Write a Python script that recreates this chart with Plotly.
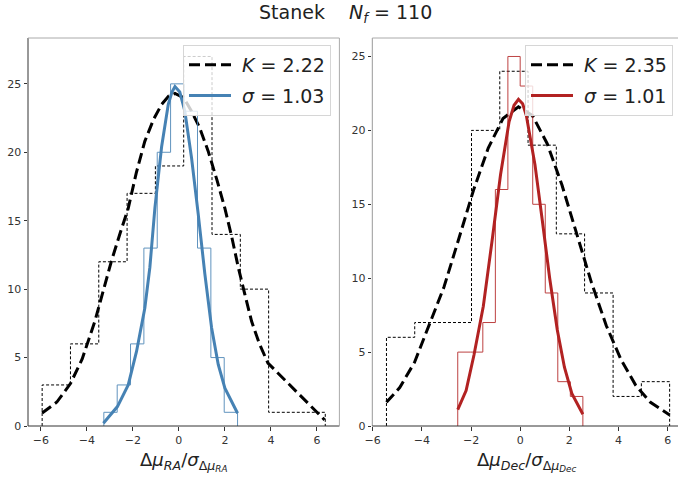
import plotly.graph_objects as go

# ---- Right ascension panel ----
ra_all_edges = [-5.94, -4.71, -3.48, -2.25, -1.02, 0.21, 1.44, 2.67, 3.90, 5.13, 6.36]
ra_all_counts = [3, 6, 12, 17, 19, 27, 14, 10, 1, 1]
ra_cut_edges = [-3.26, -2.68, -2.10, -1.52, -0.94, -0.36, 0.23, 0.81, 1.39, 1.97, 2.55]
ra_cut_counts = [1, 3, 6, 13, 20, 25, 23, 13, 5, 1]

ra_k_x = [-5.94, -5.3, -4.71, -4.2, -3.65, -3.3, -2.93, -2.55, -2.2, -1.85, -1.48, -1.1,
          -0.75, -0.45, -0.17, 0.2, 0.55, 0.9, 1.27, 1.65, 2.0, 2.3, 2.58, 2.87, 3.16,
          3.5, 3.87, 6.33]
ra_k_y = [0.95, 1.75, 3.1, 4.9, 7.65, 9.8, 12.05, 14.1, 15.9, 18.5, 20.8, 22.4,
          23.5, 24.1, 24.3, 24.0, 23.0, 21.8, 20.1, 18.0, 15.9, 13.8, 11.6, 9.6, 7.65,
          6.0, 4.6, 0.45]
ra_s_x = [-3.28, -2.67, -2.2, -1.84, -1.48, -1.26, -1.04, -0.75, -0.46, -0.3, -0.17,
          0.04, 0.26, 0.55, 0.84, 1.13, 1.42, 1.71, 2.0, 2.55]
ra_s_y = [0.2, 1.42, 3.0, 5.45, 8.6, 11.6, 15.95, 20.4, 23.5, 24.4, 24.8,
          24.4, 23.0, 19.6, 15.5, 11.1, 7.2, 4.5, 2.76, 0.93]

# ---- Declination panel ----
dec_all_edges = [-5.44, -4.29, -3.14, -1.98, -0.83, 0.32, 1.47, 2.62, 3.78, 4.93, 6.08]
dec_all_counts = [6, 7, 7, 20, 24, 19, 13, 9, 2, 3]
dec_cut_edges = [-2.54, -2.03, -1.52, -1.01, -0.50, 0.0, 0.51, 1.02, 1.53, 2.04, 2.55]
dec_cut_counts = [5, 5, 7, 16, 25, 23, 15, 9, 3, 2]

dec_k_x = [-5.44, -4.9, -4.3, -3.7, -3.1, -2.5, -1.9, -1.3, -0.7, -0.07, 0.5, 1.1,
           1.7, 2.3, 2.9, 3.5, 4.1, 4.7, 5.3, 6.08]
dec_k_y = [1.6, 2.6, 4.3, 6.8, 9.4, 12.65, 15.95, 18.8, 20.8, 21.6, 21.0, 19.1,
           16.3, 13.0, 9.7, 6.8, 4.5, 2.75, 1.6, 0.75]
dec_s_x = [-2.54, -2.2, -1.88, -1.5, -1.13, -0.8, -0.45, -0.25, -0.07, 0.1, 0.25, 0.6,
           0.9, 1.2, 1.51, 1.8, 2.1, 2.55]
dec_s_y = [1.11, 2.4, 4.8, 8.1, 12.7, 17.0, 20.6, 21.7, 22.1, 21.8, 21.0, 17.7,
           13.9, 10.0, 6.5, 3.98, 2.2, 0.8]

ra_labels = ["&nbsp;<i>K</i> = 2.22", "&nbsp;<i>σ</i> = 1.03"]
dec_labels = ["&nbsp;<i>K</i> = 2.35", "&nbsp;<i>σ</i> = 1.01"]

FONT = "DejaVu Sans"
BLUE = "#4682b4"
RED = "#b22222"
W, H = 678, 477


def step_path(edges, counts):
    xs, ys = [edges[0]], [0]
    for i, c in enumerate(counts):
        xs += [edges[i], edges[i + 1]]
        ys += [c, c]
    xs.append(edges[-1])
    ys.append(0)
    return xs, ys


fig = go.Figure()


def add_panel(xa, ya, legend, all_e, all_c, cut_e, cut_c, kx, ky, sx, sy, color, labels):
    hx, hy = step_path(all_e, all_c)
    fig.add_trace(go.Scatter(x=hx, y=hy, mode="lines", xaxis=xa, yaxis=ya,
                             line=dict(color="black", width=1, dash="3px,2px"),
                             showlegend=False, hoverinfo="skip"))
    fig.add_trace(go.Scatter(x=kx, y=ky, mode="lines", xaxis=xa, yaxis=ya,
                             line=dict(color="black", width=3, dash="11px,5px"),
                             name=labels[0], legend=legend, legendgroup=legend + "k"))
    hx, hy = step_path(cut_e, cut_c)
    fig.add_trace(go.Scatter(x=hx, y=hy, mode="lines", xaxis=xa, yaxis=ya,
                             line=dict(color=color, width=1), opacity=0.85,
                             showlegend=False, hoverinfo="skip"))
    fig.add_trace(go.Scatter(x=sx, y=sy, mode="lines", xaxis=xa, yaxis=ya,
                             line=dict(color=color, width=3),
                             name=labels[1], legend=legend, legendgroup=legend + "s"))


add_panel("x", "y", "legend", ra_all_edges, ra_all_counts, ra_cut_edges, ra_cut_counts,
          ra_k_x, ra_k_y, ra_s_x, ra_s_y, BLUE, ra_labels)
add_panel("x2", "y2", "legend2", dec_all_edges, dec_all_counts, dec_cut_edges, dec_cut_counts,
          dec_k_x, dec_k_y, dec_s_x, dec_s_y, RED, dec_labels)

y_dom = [1 - 426 / H, 1 - 38 / H]
left_dom = [28 / W, 339.4 / W]
right_dom = [372.3 / W, 1.0]

tick_style = dict(showgrid=False, zeroline=False, showline=False, ticks="outside",
                  ticklen=3.5, tickwidth=1, tickcolor="#333", automargin=False,
                  tickfont=dict(family=FONT, size=11, color="#333"), tickmode="linear")

legend_style = dict(xanchor="right", yanchor="top", y=1 - 45 / H,
                    bgcolor="rgba(255,255,255,0.8)", bordercolor="#d6d6d6", borderwidth=1,
                    itemwidth=42, tracegroupgap=3, traceorder="grouped",
                    font=dict(family=FONT, size=19, color="#222"))

fig.update_layout(
    width=W, height=H,
    margin=dict(l=0, r=0, t=0, b=0, pad=0, autoexpand=False),
    paper_bgcolor="white", plot_bgcolor="white",
    font=dict(family=FONT, color="#222"),
    xaxis=dict(domain=left_dom, range=[-6.555, 6.975], tick0=0, dtick=2, anchor="y", **tick_style),
    yaxis=dict(domain=y_dom, range=[0, 28.35], tick0=0, dtick=5, anchor="x", **tick_style),
    xaxis2=dict(domain=right_dom, range=[-6.016, 6.42], tick0=0, dtick=2, anchor="y2", **tick_style),
    yaxis2=dict(domain=y_dom, range=[0, 26.25], tick0=0, dtick=5, anchor="x2", **tick_style),
    legend=dict(x=331 / W, **legend_style),
    legend2=dict(x=673 / W, **legend_style),
)


# axis frames
def frame(xa, ya, colors, sides):
    coords = {"left": (0, 0, 0, 1), "right": (1, 1, 0, 1),
              "bottom": (0, 1, 0, 0), "top": (0, 1, 1, 1)}
    for side, col in zip(sides, colors):
        x0, x1, y0, y1 = coords[side]
        fig.add_shape(type="line", xref=f"{xa} domain", yref=f"{ya} domain",
                      x0=x0, x1=x1, y0=y0, y1=y1, line=dict(color=col, width=1), layer="above")


frame("x", "y", ["#333", "#333", "#aaa", "#aaa"], ["left", "bottom", "top", "right"])
frame("x2", "y2", ["#999", "#333", "#aaa"], ["left", "bottom", "top"])

# titles
fig.add_annotation(text="Stanek&nbsp;&nbsp;&nbsp;&nbsp;<i>N</i><sub><i>f</i></sub> = 110",
                   x=345 / W, y=1 - 14 / H, xref="paper", yref="paper",
                   showarrow=False, xanchor="center", yanchor="middle",
                   font=dict(family=FONT, size=19, color="#222"))
fig.add_annotation(text="Δ<i>μ</i><sub><i>RA</i></sub>/<i>σ</i><sub>Δ<i>μ</i><sub><i>RA</i></sub></sub>",
                   x=(left_dom[0] + left_dom[1]) / 2, y=1 - 461 / H, xref="paper", yref="paper",
                   showarrow=False, xanchor="center", yanchor="middle",
                   font=dict(family=FONT, size=18, color="#222"))
fig.add_annotation(text="Δ<i>μ</i><sub><i>Dec</i></sub>/<i>σ</i><sub>Δ<i>μ</i><sub><i>Dec</i></sub></sub>",
                   x=527 / W, y=1 - 461 / H, xref="paper", yref="paper",
                   showarrow=False, xanchor="center", yanchor="middle",
                   font=dict(family=FONT, size=18, color="#222"))

fig.write_html("out.html")
